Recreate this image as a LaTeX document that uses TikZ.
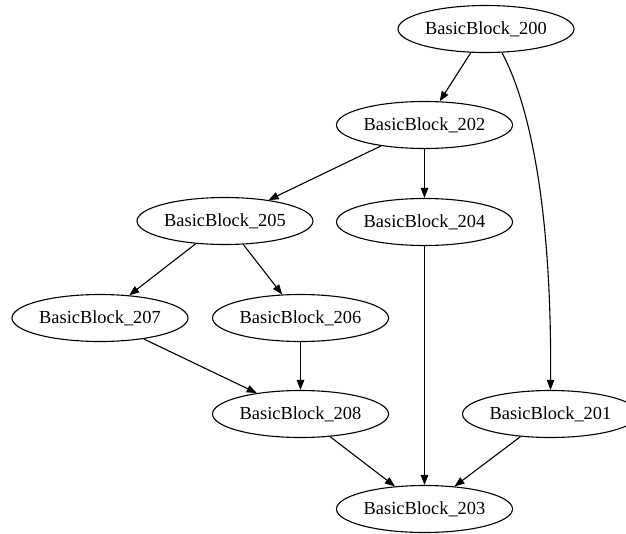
\documentclass[tikz,border=0pt]{standalone}
\usepackage{fontspec}
\setmainfont{Liberation Serif}
\usetikzlibrary{shapes.geometric,arrows.meta}
\begin{document}
\begin{tikzpicture}[x=1pt,y=-1pt,
  block/.style={ellipse,draw,line width=1.1pt,minimum width=176pt,minimum height=47pt,
    inner sep=0pt,font=\fontsize{18.4}{22}\selectfont},
  flow/.style={line width=1.1pt,-{Triangle[length=10pt,width=7.5pt]}}]
  \useasboundingbox (0,0) rectangle (626,533);

  % basic blocks
  \node[block] (n200) at (486,29)    {BasicBlock\_200};
  \node[block] (n202) at (424.5,125) {BasicBlock\_202};
  \node[block] (n205) at (225,221)   {BasicBlock\_205};
  \node[block] (n204) at (424.5,222) {BasicBlock\_204};
  \node[block] (n207) at (100,318)   {BasicBlock\_207};
  \node[block] (n206) at (300.5,318) {BasicBlock\_206};
  \node[block] (n208) at (300.5,414) {BasicBlock\_208};
  \node[block] (n201) at (550.5,414) {BasicBlock\_201};
  \node[block] (n203) at (424.5,509) {BasicBlock\_203};

  % control-flow edges
  \draw[flow] (n200) -- (n202);
  \draw[flow] (n200.-56) .. controls (530,105) and (552,210) .. (n201.north);
  \draw[flow] (n202) -- (n205);
  \draw[flow] (n202) -- (n204);
  \draw[flow] (n205) -- (n207);
  \draw[flow] (n205) -- (n206);
  \draw[flow] (n207) -- (n208);
  \draw[flow] (n206) -- (n208);
  \draw[flow] (n204) -- (n203);
  \draw[flow] (n208) -- (n203);
  \draw[flow] (n201) -- (n203);
\end{tikzpicture}
\end{document}
